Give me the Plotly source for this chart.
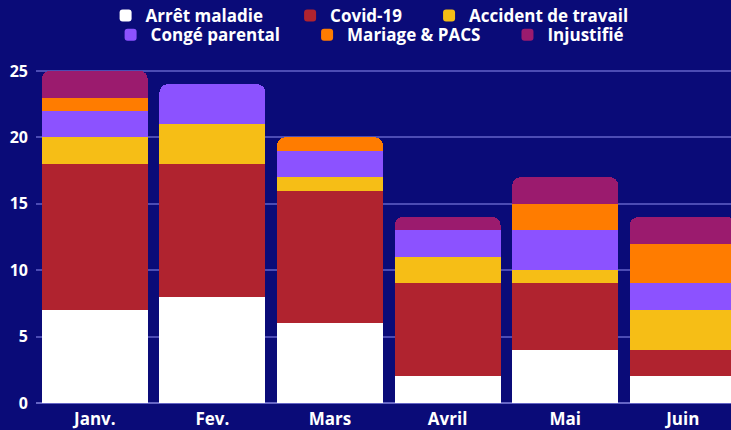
import plotly.graph_objects as go

months = ["Janv.", "Fev.", "Mars", "Avril", "Mai", "Juin"]
arret = [7, 8, 6, 2, 4, 2]
covid = [11, 10, 10, 7, 5, 2]
accident = [2, 3, 1, 2, 1, 3]
conge = [2, 3, 2, 2, 3, 2]
mariage = [1, 0, 1, 0, 2, 3]
injustifie = [2, 0, 0, 1, 2, 2]

PAD = "\u00a0" * 5
series = [
    ("Arrêt maladie" + PAD, arret, "#ffffff", "legend"),
    ("Covid-19" + PAD, covid, "#b0232f", "legend"),
    ("Accident de travail", accident, "#f6be16", "legend"),
    ("Congé parental" + PAD, conge, "#8c52ff", "legend2"),
    ("Mariage & PACS" + PAD, mariage, "#ff7c00", "legend2"),
    ("Injustifié", injustifie, "#9b1b6e", "legend2"),
]

BG = "#0a0b78"
FONT = "Open Sans"

fig = go.Figure()
for name, vals, color, leg in series:
    fig.add_trace(go.Bar(
        x=months, y=vals, name=name, marker_color=color,
        marker_line_width=0, legend=leg,
    ))

legend_common = dict(
    orientation="h", xanchor="center", x=0.48, yanchor="middle",
    traceorder="normal",
    font=dict(family=FONT, size=17, color="white", weight="bold"),
    bgcolor="rgba(0,0,0,0)", itemclick=False, itemdoubleclick=False,
)

fig.update_layout(
    width=731, height=430,
    barmode="stack", bargap=0.1, barcornerradius=8,
    paper_bgcolor=BG, plot_bgcolor=BG,
    margin=dict(l=36, r=0, t=67, b=27, autoexpand=False),
    font=dict(family=FONT, color="white"),
    legend=dict(y=1.152, **legend_common),
    legend2=dict(y=1.095, **legend_common),
    xaxis=dict(
        range=[-0.5, 5.41], showgrid=False, zeroline=False,
        tickfont=dict(family=FONT, size=17, color="white", weight="bold"),
        ticks="", ticklabelstandoff=4,
    ),
    yaxis=dict(
        range=[0, 25.3], dtick=5, showgrid=True,
        gridcolor="rgba(120,120,220,0.6)", gridwidth=2,
        zeroline=True, zerolinecolor="rgba(140,140,230,0.7)", zerolinewidth=2,
        tickfont=dict(family=FONT, size=16, color="white", weight="bold"),
        ticks="", ticklabelstandoff=7,
    ),
    showlegend=True,
)

fig.write_html(
    "out.html",
    config={"displayModeBar": False},
    post_script="document.body.style.margin='0';document.body.style.background='#0a0b78';",
)
